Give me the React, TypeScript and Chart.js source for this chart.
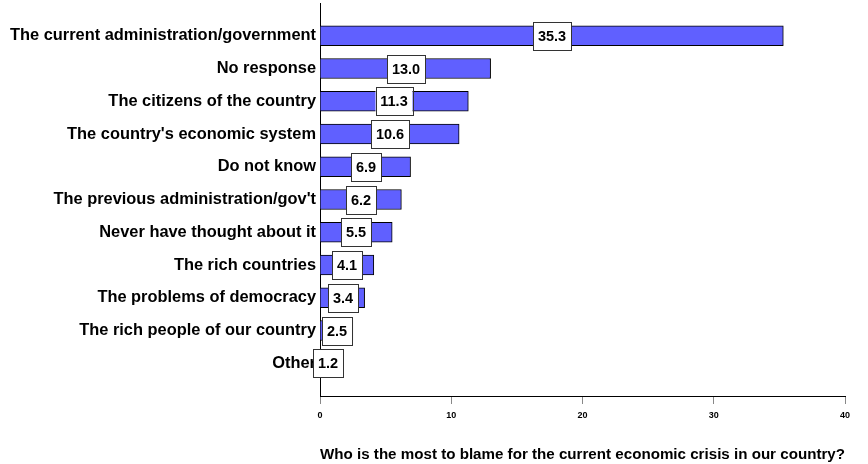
import React, { useEffect, useRef } from "react";
import { Chart, registerables } from "chart.js";

Chart.register(...registerables);

const categories = [
  "The current administration/government",
  "No response",
  "The citizens of the country",
  "The country's economic system",
  "Do not know",
  "The previous administration/gov't",
  "Never have thought about it",
  "The rich countries",
  "The problems of democracy",
  "The rich people of our country",
  "Other",
];
const values = [35.3, 13.0, 11.3, 10.6, 6.9, 6.2, 5.5, 4.1, 3.4, 2.5, 1.2];
const xTicks = [0, 10, 20, 30, 40];
const axisTitle = "Who is the most to blame for the current economic crisis in our country?";

const FONT = "'Liberation Sans', Arial, sans-serif";

const boxLabels = {
  id: "boxLabels",
  afterDatasetsDraw(chart: any) {
    const ctx = chart.ctx;
    const meta = chart.getDatasetMeta(0);
    const data = chart.data.datasets[0].data;
    ctx.save();
    ctx.font = `bold 14.5px ${FONT}`;
    ctx.textAlign = "center";
    ctx.textBaseline = "middle";
    meta.data.forEach((el: any, i: number) => {
      const v = data[i];
      if (v == null) return;
      const cx = Math.round((el.x + el.base) / 2);
      const cy = Math.round(el.y);
      const txt = v.toFixed(1);
      const w = Math.round(ctx.measureText(txt).width) + 10;
      const h = 28;
      ctx.fillStyle = "#ffffff";
      ctx.fillRect(cx - w / 2, cy - h / 2, w, h);
      ctx.strokeStyle = "#333333";
      ctx.lineWidth = 1;
      ctx.strokeRect(Math.round(cx - w / 2) + 0.5, Math.round(cy - h / 2) + 0.5, w, h);
      ctx.fillStyle = "#000000";
      ctx.fillText(txt, cx, cy + 1);
    });
    ctx.restore();
  },
};

export default function App() {
  const ref = useRef<HTMLCanvasElement>(null);
  useEffect(() => {
    document.body.style.margin = "0";
    const labels = ["", ...categories, ""];
    const data = [null, ...values, null];
    const chart = new Chart(ref.current!, {
      type: "bar",
      data: {
        labels,
        datasets: [
          {
            data,
            backgroundColor: "#6060ff",
            borderColor: "#000000",
            borderWidth: 1,
            barThickness: 20,
          },
        ],
      },
      options: {
        indexAxis: "y",
        animation: false,
        responsive: false,
        devicePixelRatio: 1,
        layout: { padding: { top: 3, right: 23, bottom: 0, left: 0 } },
        plugins: { legend: { display: false }, tooltip: { enabled: false } },
        scales: {
          y: {
            offset: false,
            grid: { display: false, drawTicks: false },
            border: { color: "#000000", width: 1 },
            ticks: {
              color: "#000000",
              padding: 4,
              autoSkip: false,
              font: { family: FONT, size: 16.4, weight: "bold" },
            },
            afterFit: (s: any) => {
              s.width = 320;
              s.paddingTop = 0;
              s.paddingBottom = 0;
            },
          },
          x: {
            min: 0,
            max: 40,
            afterBuildTicks: (s: any) => {
              s.ticks = xTicks.map((v) => ({ value: v }));
            },
            grid: {
              drawOnChartArea: false,
              drawTicks: true,
              tickLength: 8,
              color: "#888888",
            },
            border: { color: "#000000", width: 1 },
            ticks: {
              color: "#000000",
              padding: 6,
              font: { family: FONT, size: 9, weight: "bold" },
            },
            title: {
              display: true,
              text: axisTitle,
              color: "#000000",
              font: { family: FONT, size: 15.3, weight: "bold" },
              padding: { top: 20, bottom: 0 },
            },
            afterFit: (s: any) => {
              s.height = 68;
              s.paddingLeft = 0;
            },
          },
        },
      },
      plugins: [boxLabels],
    });
    return () => chart.destroy();
  }, []);
  return (
    <div style={{ position: "absolute", left: 0, top: 0, width: 868, height: 464 }}>
      <canvas ref={ref} width={868} height={464} />
    </div>
  );
}
